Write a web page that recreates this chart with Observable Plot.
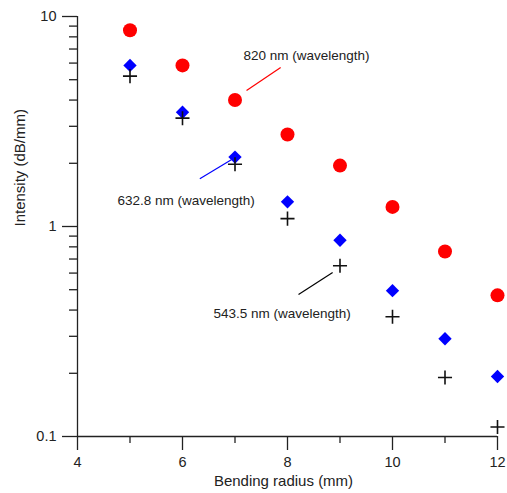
<!DOCTYPE html>
<html><head><meta charset="utf-8">
<script src="https://cdn.jsdelivr.net/npm/d3@7"></script>
<script src="https://cdn.jsdelivr.net/npm/@observablehq/plot@0.6"></script>
<style>body{margin:0;background:#fff} svg{display:block}</style>
</head><body><div id="chart"></div>
<script>
// Data
const radius = [5, 6, 7, 8, 9, 10, 11, 12];
const nm820 = [8.6, 5.85, 4.0, 2.74, 1.95, 1.24, 0.76, 0.47];
const nm632 = [5.85, 3.5, 2.14, 1.31, 0.86, 0.495, 0.292, 0.193];
const nm543 = [5.2, 3.28, 1.98, 1.09, 0.65, 0.372, 0.191, 0.111];

const xMajorTicks = [4, 6, 8, 10, 12];
const xMinorTicks = [5, 7, 9, 11];
const yMajorTicks = [0.1, 1, 10];
const yMinorTicks = [0.2, 0.3, 0.4, 0.5, 0.6, 0.7, 0.8, 0.9, 2, 3, 4, 5, 6, 7, 8, 9];

// Annotations (data coordinates)
const annText = ["820 nm (wavelength)", "632.8 nm (wavelength)", "543.5 nm (wavelength)"];
const annX = [7.16, 4.76, 6.59];
const annY = [6.5, 1.33, 0.385];
const leadX1 = [7.22, 6.33, 8.21];
const leadY1 = [4.44, 1.69, 0.475];
const leadX2 = [7.87, 6.93, 8.86];
const leadY2 = [5.72, 2.08, 0.604];
const leadColor = ["#ff0000", "#0000ff", "#000000"];

const d820 = radius.map((x, i) => ({x, y: nm820[i]}));
const d632 = radius.map((x, i) => ({x, y: nm632[i]}));
const d543 = radius.map((x, i) => ({x, y: nm543[i]}));
const ann = annText.map((t, i) => ({t, x: annX[i], y: annY[i]}));
const leads = leadColor.map((c, i) => ({c, x1: leadX1[i], y1: leadY1[i], x2: leadX2[i], y2: leadY2[i]}));

const axisColor = "#222";
const chart = Plot.plot({
  width: 507, height: 493,
  marginLeft: 77, marginRight: 10, marginTop: 16, marginBottom: 57,
  style: {fontFamily: "'Liberation Sans', Arial, sans-serif", fontSize: "14.5px", color: axisColor, background: "#fff"},
  x: {domain: [4, 12]},
  y: {type: "log", domain: [0.1, 10]},
  marks: [
    Plot.axisX({ticks: xMajorTicks, tickSize: 14, tickPadding: 6, tickFormat: d => String(d), label: null, strokeWidth: 1.3, fontSize: 14.5}),
    Plot.axisX({ticks: xMinorTicks, tickSize: 7, tickFormat: () => "", label: null, strokeWidth: 1.3}),
    Plot.axisY({ticks: yMajorTicks, tickSize: 15, tickPadding: 6, tickFormat: d => String(d), label: null, strokeWidth: 1.3, fontSize: 14.5}),
    Plot.axisY({ticks: yMinorTicks, tickSize: 8, tickFormat: () => "", label: null, strokeWidth: 1.3}),
    Plot.ruleY([0.1], {stroke: axisColor, strokeWidth: 1.3}),
    Plot.ruleX([4], {stroke: axisColor, strokeWidth: 1.3}),
    Plot.text(["Bending radius (mm)"], {frameAnchor: "bottom", dx: -4, dy: 49, fontSize: 15, fill: axisColor}),
    Plot.text(["Intensity (dB/mm)"], {frameAnchor: "left", rotate: -90, dx: -57, fontSize: 15, fill: axisColor}),
    Plot.link(leads, {x1: "x1", y1: "y1", x2: "x2", y2: "y2", stroke: "c", strokeWidth: 1.2}),
    Plot.text(ann, {x: "x", y: "y", text: "t", textAnchor: "start", fontSize: 13.5, fill: axisColor}),
    Plot.dot(d820, {x: "x", y: "y", r: 7, fill: "#ff0000", stroke: "none", symbol: "circle"}),
    Plot.dot(d632, {x: "x", y: "y", r: 6, fill: "#0000ff", stroke: "none", symbol: "diamond2"}),
    Plot.dot(d543, {x: "x", y: "y", r: 4.6, fill: "none", stroke: "#111", strokeWidth: 1.6, symbol: "plus"})
  ]
});
document.getElementById("chart").append(chart);
</script>
</body></html>
